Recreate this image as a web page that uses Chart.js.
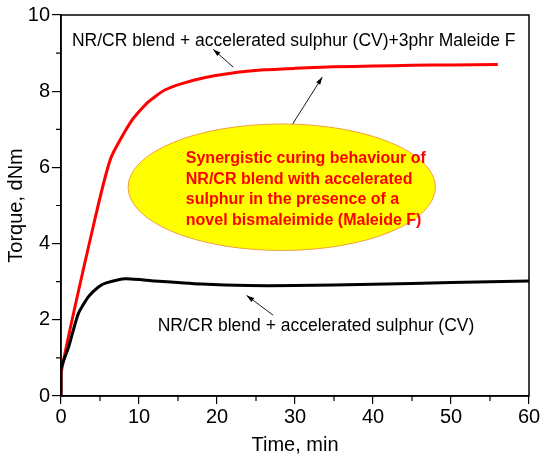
<!DOCTYPE html>
<html>
<head>
<meta charset="utf-8">
<script src="https://cdn.jsdelivr.net/npm/chart.js@4.4.1/dist/chart.umd.min.js"></script>
<style>
  html, body { margin: 0; padding: 0; background: #fff; }
  #wrap { width: 550px; height: 461px; }
</style>
</head>
<body>
<div id="wrap"><canvas id="torqueChart"></canvas></div>
<script>
// Cure curves (time in min, torque in dNm)
const blendTime   = [0, 0, 1, 2.2, 3.5, 4.8, 5.8, 8.3, 12, 18, 24, 30, 40, 50, 60];
const blendTorque = [0, 0.7, 1.3, 2.15, 2.6, 2.86, 2.97, 3.08, 3.02, 2.94, 2.9, 2.9, 2.93, 2.98, 3.02];

const maleideTime   = [0, 0, 4.3, 6.4, 9.1, 11.2, 13.3, 15.5, 18.5, 22, 26, 30, 35, 40, 45, 50, 56];
const maleideTorque = [0, 0.6, 4.6, 6.25, 7.24, 7.72, 8.03, 8.2, 8.36, 8.48, 8.56, 8.6, 8.64, 8.66, 8.68, 8.69, 8.7];

const xTicks = [0, 10, 20, 30, 40, 50, 60];
const yTicks = [0, 2, 4, 6, 8, 10];

const seriesLabels = [
  'NR/CR blend + accelerated sulphur (CV)',
  'NR/CR blend + accelerated sulphur (CV)+3phr Maleide F'
];
const calloutLines = [
  'Synergistic curing behaviour of',
  'NR/CR blend with accelerated',
  'sulphur in the presence of a',
  'novel bismaleimide (Maleide F)'
];

const toPoints = (xs, ys) => xs.map((x, i) => ({ x: x, y: ys[i] }));

// frame, minor ticks and the text/arrow annotations
const decorPlugin = {
  id: 'decor',
  afterDraw(chart) {
    const { ctx, chartArea: a, scales: { x, y } } = chart;
    ctx.save();

    // box around plot
    ctx.strokeStyle = '#000';
    ctx.lineWidth = 1.5;
    ctx.strokeRect(a.left, a.top, a.right - a.left, a.bottom - a.top);

    // minor ticks
    ctx.lineWidth = 1.2;
    ctx.beginPath();
    for (let v = 5; v < 60; v += 10) {
      const px = x.getPixelForValue(v);
      ctx.moveTo(px, a.bottom);
      ctx.lineTo(px, a.bottom + 5);
    }
    for (let v = 1; v < 10; v += 2) {
      const py = y.getPixelForValue(v);
      ctx.moveTo(a.left, py);
      ctx.lineTo(a.left - 5, py);
    }
    ctx.stroke();

    // ellipse callout
    const cx = x.getPixelForValue(28.3), cy = y.getPixelForValue(5.48);
    const rx = x.getPixelForValue(28.3 + 19.7) - cx;
    const ry = cy - y.getPixelForValue(5.48 + 1.66);
    ctx.beginPath();
    ctx.ellipse(cx, cy, rx, ry, 0, 0, Math.PI * 2);
    ctx.fillStyle = '#ffff00';
    ctx.fill();
    ctx.strokeStyle = '#f0a040';
    ctx.lineWidth = 1;
    ctx.stroke();

    ctx.fillStyle = '#ff0000';
    ctx.font = 'bold 16px "Liberation Sans", Arial, sans-serif';
    ctx.textBaseline = 'middle';
    ctx.textAlign = 'left';
    const tx = x.getPixelForValue(16.0);
    calloutLines.forEach((line, i) => {
      ctx.fillText(line, tx, y.getPixelForValue(6.23) + i * 20.7);
    });

    // series labels
    ctx.fillStyle = '#000';
    ctx.font = '17.5px "Liberation Sans", Arial, sans-serif';
    ctx.fillText(seriesLabels[1], x.getPixelForValue(1.4), y.getPixelForValue(9.3));
    ctx.fillText(seriesLabels[0], x.getPixelForValue(12.4), y.getPixelForValue(1.83));

    // arrows
    const arrow = (x0, y0, x1, y1) => {
      const p0 = [x.getPixelForValue(x0), y.getPixelForValue(y0)];
      const p1 = [x.getPixelForValue(x1), y.getPixelForValue(y1)];
      const ang = Math.atan2(p1[1] - p0[1], p1[0] - p0[0]);
      ctx.strokeStyle = '#000';
      ctx.lineWidth = 0.9;
      ctx.beginPath();
      ctx.moveTo(p0[0], p0[1]);
      ctx.lineTo(p1[0], p1[1]);
      ctx.stroke();
      ctx.beginPath();
      ctx.moveTo(p1[0], p1[1]);
      ctx.lineTo(p1[0] - 8 * Math.cos(ang - 0.3), p1[1] - 8 * Math.sin(ang - 0.3));
      ctx.lineTo(p1[0] - 8 * Math.cos(ang + 0.3), p1[1] - 8 * Math.sin(ang + 0.3));
      ctx.closePath();
      ctx.fillStyle = '#000';
      ctx.fill();
    };
    arrow(22.1, 8.63, 19.5, 9.1);
    arrow(29.7, 7.14, 33.5, 8.37);
    arrow(27.2, 2.12, 23.8, 2.64);

    ctx.restore();
  }
};

const initTorqueChart = () => {
  const ctx = document.getElementById('torqueChart').getContext('2d');
  Chart.defaults.font.family = '"Liberation Sans", Arial, sans-serif';
  Chart.defaults.color = '#000';

  new Chart(ctx, {
    type: 'line',
    data: {
      datasets: [
        {
          label: seriesLabels[0],
          data: toPoints(blendTime, blendTorque),
          borderColor: '#000',
          borderWidth: 3,
          pointRadius: 0,
          tension: 0.2,
          fill: false
        },
        {
          label: seriesLabels[1],
          data: toPoints(maleideTime, maleideTorque),
          borderColor: '#ff0000',
          borderWidth: 3,
          pointRadius: 0,
          tension: 0.2,
          fill: false
        }
      ]
    },
    options: {
      responsive: true,
      maintainAspectRatio: false,
      animation: false,
      layout: { padding: { top: 15, right: 21, left: 0, bottom: 0 } },
      plugins: { legend: { display: false }, tooltip: { enabled: false } },
      scales: {
        x: {
          type: 'linear',
          min: 0,
          max: 60,
          afterBuildTicks: (s) => { s.ticks = xTicks.map(v => ({ value: v })); },
          afterFit: (s) => { s.height = 65; },
          grid: { drawOnChartArea: false, drawTicks: true, tickLength: 8, color: '#000', lineWidth: 1.2 },
          border: { color: '#000', width: 1.5 },
          ticks: { font: { size: 20 }, padding: 1, maxRotation: 0 },
          title: { display: true, text: 'Time, min', font: { size: 20 }, padding: { top: 0 } }
        },
        y: {
          min: 0,
          max: 10,
          afterBuildTicks: (s) => { s.ticks = yTicks.map(v => ({ value: v })); },
          afterFit: (s) => { s.width = 61; },
          grid: { drawOnChartArea: false, drawTicks: true, tickLength: 9, color: '#000', lineWidth: 1.2 },
          border: { color: '#000', width: 1.5 },
          ticks: { font: { size: 20 }, padding: 2 },
          title: { display: true, text: 'Torque, dNm', font: { size: 20 }, padding: { bottom: 0 } }
        }
      }
    },
    plugins: [decorPlugin]
  });
};

document.addEventListener('DOMContentLoaded', initTorqueChart);
</script>
</body>
</html>
